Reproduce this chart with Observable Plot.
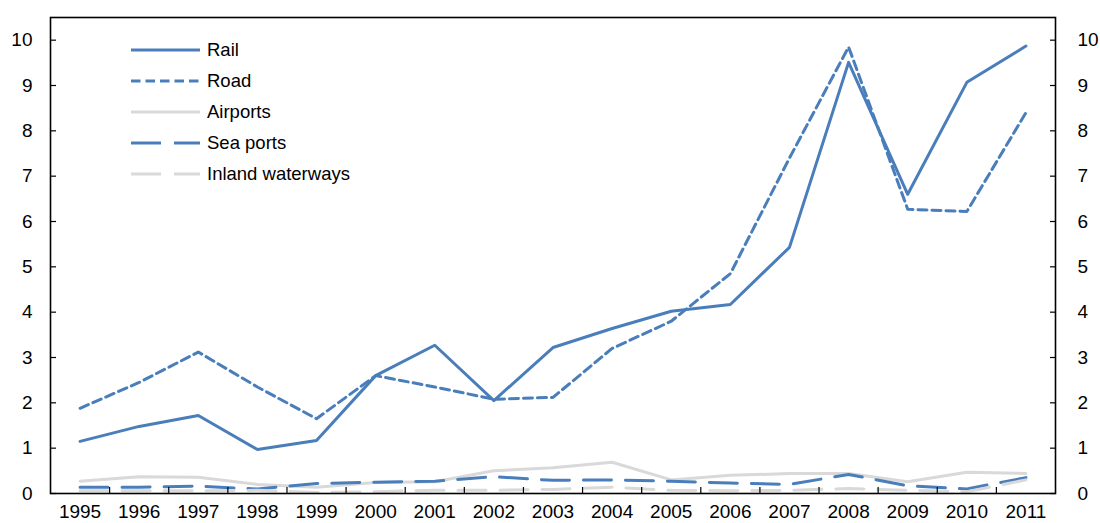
<!DOCTYPE html>
<html>
<head>
<meta charset="utf-8">
<script src="https://cdn.jsdelivr.net/npm/d3@7"></script>
<script src="https://cdn.jsdelivr.net/npm/@observablehq/plot@0.6"></script>
<style>
  html, body { margin: 0; padding: 0; background: #fff; }
  #wrap { position: relative; width: 1100px; height: 523px; font-family: "Liberation Sans Narrow", "Arial Narrow", "Liberation Sans", Arial, sans-serif; }
  #legend { position: absolute; left: 131px; top: 34px; font-size: 18.5px; color: #000; }
  .row { display: flex; align-items: center; height: 31.2px; }
  .row svg { margin-right: 7px; }
</style>
</head>
<body>
<div id="wrap"><div id="legend"></div></div>
<script>
const years = [1995,1996,1997,1998,1999,2000,2001,2002,2003,2004,2005,2006,2007,2008,2009,2010,2011];
const rail     = [1.15,1.48,1.72,0.97,1.17,2.60,3.27,2.05,3.22,3.64,4.02,4.17,5.43,9.51,6.60,9.07,9.87];
const road     = [1.88,2.45,3.12,2.35,1.65,2.60,2.35,2.08,2.12,3.20,3.80,4.85,7.40,9.85,6.27,6.22,8.40];
const airports = [0.27,0.37,0.36,0.20,0.14,0.24,0.26,0.50,0.57,0.69,0.30,0.40,0.44,0.44,0.26,0.47,0.44];
const seaPorts = [0.14,0.14,0.16,0.10,0.22,0.25,0.27,0.37,0.29,0.30,0.27,0.23,0.20,0.42,0.17,0.10,0.35];
const inland   = [0.06,0.06,0.06,0.07,0.02,0.04,0.07,0.07,0.09,0.14,0.07,0.06,0.07,0.11,0.07,0.04,0.30];
const yTicks = [0,1,2,3,4,5,6,7,8,9,10];

const blue = "#4a7ebb", gray = "#d9d9d9";
const series = [
  {name: "Rail", values: rail, color: blue, dash: null},
  {name: "Road", values: road, color: blue, dash: "9,5"},
  {name: "Airports", values: airports, color: gray, dash: null},
  {name: "Sea ports", values: seaPorts, color: blue, dash: "28,14"},
  {name: "Inland waterways", values: inland, color: gray, dash: "28,14"}
];

const boundaries = years.slice(0, -1).map(y => y + 0.5);

const lineMarks = series.map(s => Plot.line(
  years.map((y, i) => ({year: y, value: s.values[i]})),
  {x: "year", y: "value", stroke: s.color, strokeWidth: 3, strokeDasharray: s.dash, strokeLinejoin: "round"}
));

const chart = Plot.plot({
  width: 1100,
  height: 523,
  marginLeft: 50,
  marginRight: 45,
  marginTop: 17,
  marginBottom: 30,
  style: {fontFamily: "'Liberation Sans Narrow', 'Arial Narrow', 'Liberation Sans', Arial, sans-serif", fontSize: "19px", color: "#000", background: "#fff"},
  x: {type: "linear", domain: [years[0] - 0.5, years[years.length - 1] + 0.5], label: null},
  y: {domain: [0, 10.5], label: null},
  marks: [
    ...lineMarks,
    Plot.axisX(boundaries, {tickSize: -6, tickFormat: () => "", label: null, stroke: "#000", strokeWidth: 1.2}),
    Plot.axisX(years, {tickSize: 0, tickPadding: 11, tickFormat: d => String(d), label: null}),
    Plot.axisY(yTicks, {anchor: "left", tickSize: -6, tickPadding: 24, label: null, strokeWidth: 1.2}),
    Plot.axisY(yTicks, {anchor: "right", tickSize: -6, tickPadding: 28, label: null, strokeWidth: 1.2}),
    Plot.frame({stroke: "#000", strokeWidth: 1.6})
  ]
});
document.getElementById("wrap").prepend(chart);

const legend = document.getElementById("legend");
for (const s of series) {
  const row = document.createElement("div");
  row.className = "row";
  row.innerHTML = `<svg width="69" height="6"><line x1="0" y1="3" x2="69" y2="3" stroke="${s.color}" stroke-width="3" ${s.dash ? `stroke-dasharray="${s.name === "Road" ? "9.5,5" : "30,13"}"` : ""}/></svg><span>${s.name}</span>`;
  legend.appendChild(row);
}
</script>
</body>
</html>
